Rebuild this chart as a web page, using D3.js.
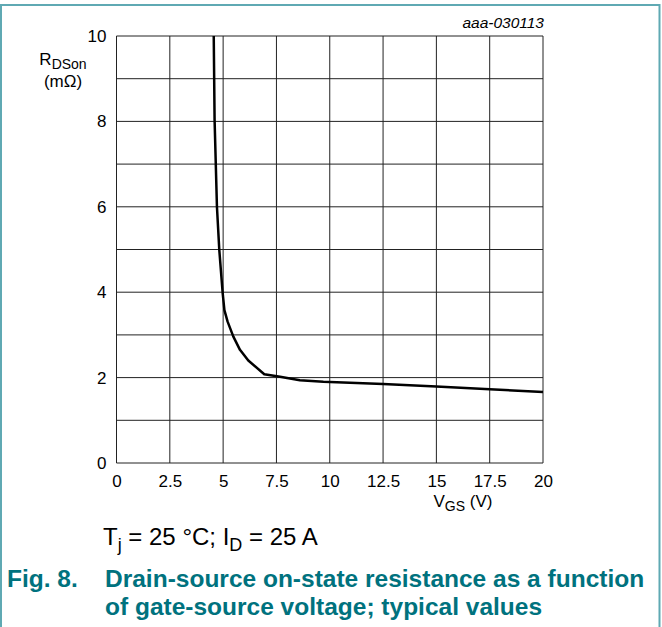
<!DOCTYPE html>
<html><head><meta charset="utf-8">
<script src="https://cdn.jsdelivr.net/npm/d3@7"></script>
<style>body{margin:0;background:#fff}svg{display:block}text{font-family:"Liberation Sans",Arial,sans-serif}</style>
</head><body>
<script>
const vgs = [4.56, 4.6, 4.71, 4.82, 4.98, 5.06, 5.21, 5.48, 5.79, 6.18, 6.93, 7.67, 8.6, 9.7, 12.5, 15, 17.5, 20];
const rdson = [10, 8.03, 6.0, 4.99, 3.97, 3.58, 3.31, 2.96, 2.65, 2.40, 2.08, 2.02, 1.94, 1.90, 1.85, 1.79, 1.73, 1.66];
const xTicks = [0, 2.5, 5, 7.5, 10, 12.5, 15, 17.5, 20];
const yTicks = [0, 2, 4, 6, 8, 10];
const yGrid = [0,1,2,3,4,5,6,7,8,9,10];

const W = 662, H = 627;
const svg = d3.select("body").append("svg").attr("width", W).attr("height", H);
const x = d3.scaleLinear().domain([0, 20]).range([116.5, 543]);
const y = d3.scaleLinear().domain([0, 10]).range([463, 36]);
const teal = "#5fa9b3";

svg.append("path").attr("d", `M1,${H} L1,5 L659.5,5 L659.5,${H}`).attr("fill","none").attr("stroke",teal).attr("stroke-width",2);

const g = svg.append("g");
g.selectAll(".vg").data(xTicks).join("line")
  .attr("x1", d=>x(d)).attr("x2", d=>x(d)).attr("y1", y(0)).attr("y2", y(10))
  .attr("stroke", "#222").attr("stroke-width", 1);
g.selectAll(".hg").data(yGrid).join("line")
  .attr("y1", d=>y(d)).attr("y2", d=>y(d)).attr("x1", x(0)).attr("x2", x(20))
  .attr("stroke", "#222").attr("stroke-width", 1);

const xa = svg.append("g").attr("transform", `translate(0,${y(0)})`)
  .call(d3.axisBottom(x).tickValues(xTicks).tickSize(0).tickPadding(12).tickFormat(d=>String(d)));
xa.select(".domain").remove();
xa.selectAll("text").attr("font-size", 17).attr("fill","#000").style("font-family","Liberation Sans, Arial, sans-serif");

const ya = svg.append("g").attr("transform", `translate(${x(0)},0)`)
  .call(d3.axisLeft(y).tickValues(yTicks).tickSize(0).tickPadding(10).tickFormat(d=>String(d)));
ya.select(".domain").remove();
ya.selectAll("text").attr("font-size", 17).attr("fill","#000").style("font-family","Liberation Sans, Arial, sans-serif");

const line = d3.line().x((d,i)=>x(vgs[i])).y((d,i)=>y(rdson[i]));
svg.append("path").datum(vgs).attr("d", line).attr("fill","none").attr("stroke","#000").attr("stroke-width",2.5).attr("stroke-linejoin","round");

// y label
const yl = svg.append("text").attr("x", 63).attr("y", 65).attr("text-anchor","middle").attr("font-size",17);
yl.append("tspan").text("R");
yl.append("tspan").attr("font-size",14).attr("dy",4).text("DSon");
svg.append("text").attr("x", 63).attr("y", 87).attr("text-anchor","middle").attr("font-size",17).text("(mΩ)");

// x label
const xl = svg.append("text").attr("x", 463).attr("y", 507).attr("text-anchor","middle").attr("font-size",17);
xl.append("tspan").text("V");
xl.append("tspan").attr("font-size",14).attr("dy",4).text("GS");
xl.append("tspan").attr("dy",-4).text(" (V)");

svg.append("text").attr("x", 544).attr("y", 28).attr("text-anchor","end").attr("font-size",15.5).attr("font-style","italic").text("aaa-030113");

const cond = svg.append("text").attr("x", 103).attr("y", 545).attr("font-size",24);
cond.append("tspan").text("T");
cond.append("tspan").attr("font-size",18).attr("dy",6).text("j");
cond.append("tspan").attr("dy",-6).text(" = 25 °C; I");
cond.append("tspan").attr("font-size",18).attr("dy",6).text("D");
cond.append("tspan").attr("dy",-6).text(" = 25 A");

const capColor = "#00727e";
svg.append("text").attr("x", 7).attr("y", 587).attr("font-size",24.5).attr("font-weight","bold").attr("fill",capColor).text("Fig. 8.");
svg.append("text").attr("x", 105).attr("y", 587).attr("font-size",24.5).attr("font-weight","bold").attr("fill",capColor).text("Drain-source on-state resistance as a function");
svg.append("text").attr("x", 105).attr("y", 615).attr("font-size",24.5).attr("font-weight","bold").attr("fill",capColor).text("of gate-source voltage; typical values");
</script>
</body></html>
